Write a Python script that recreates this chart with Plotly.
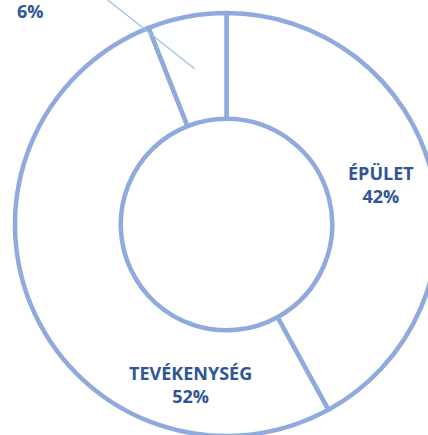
import plotly.graph_objects as go

# ---- data ----
categories = ["ÉPÜLET", "TEVÉKENYSÉG", "EGYÉB"]
shares = [42, 52, 6]

# ---- style ----
LINE = "#8faadc"
TEXT = "#2f5597"
LEADER = "#9dc3e6"
FONT = "Open Sans"

W, H = 438, 436
ML, MT = 15, 13
PW = PH = 423  # plot area (pie diameter)

def px_to_paper(px, py):
    return (px - ML) / PW, (MT + PH - py) / PH

total = sum(shares)
pct = [f"{round(v * 100 / total)}%" for v in shares]

fig = go.Figure(go.Pie(
    labels=categories,
    values=shares,
    sort=False,
    direction="clockwise",
    rotation=0,
    hole=0.5,
    textinfo="none",
    hoverinfo="label+percent",
    marker=dict(colors=["white"] * len(shares), line=dict(color=LINE, width=4.5)),
    showlegend=False,
    domain=dict(x=[0, 1], y=[0, 1]),
))

# label texts: the small slice's name lies above the visible frame, only its share shows
label_text = [
    f"<b>{categories[0]}</b><br><b>{pct[0]}</b>",
    f"<b>{categories[1]}</b><br><b>{pct[1]}</b>",
    f"<b>{pct[2]}</b>",
]
label_pos = [(381, 184), (190, 384), (30, 11)]
anns = []
for t, (x, y) in zip(label_text, label_pos):
    xp, yp = px_to_paper(x, y)
    anns.append(dict(
        x=xp, y=yp, xref="paper", yref="paper",
        text=t, showarrow=False,
        font=dict(family=FONT, size=18, color=TEXT),
        xanchor="center", yanchor="middle",
    ))

# leader line for the small slice
x0, y0 = px_to_paper(195, 69)
x1, y1 = px_to_paper(104, -3)
shapes = [dict(type="line", xref="paper", yref="paper",
               x0=x0, y0=y0, x1=x1, y1=y1,
               line=dict(color=LEADER, width=1.3))]

fig.update_layout(
    width=W, height=H,
    margin=dict(l=ML, t=MT, r=W - ML - PW, b=H - MT - PH, pad=0),
    paper_bgcolor="white", plot_bgcolor="white",
    annotations=anns,
    shapes=shapes,
)

fig.write_html(
    "out.html",
    config={"displayModeBar": False},
    post_script="document.body.style.margin='0';document.body.style.overflow='hidden';",
)
